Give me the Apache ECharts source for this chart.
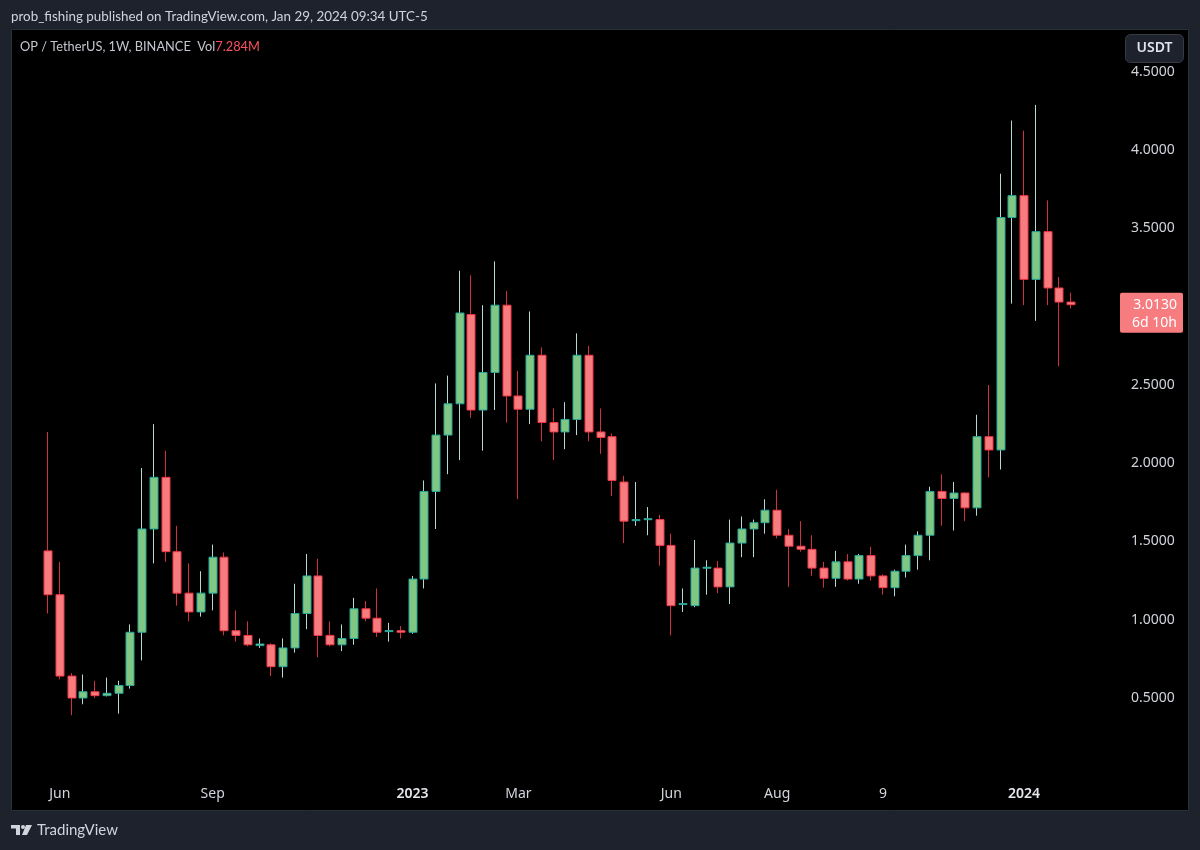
<!DOCTYPE html>
<html>
<head>
<meta charset="utf-8">
<script src="https://cdn.jsdelivr.net/npm/echarts@6/dist/echarts.min.js"></script>
<style>
html,body{margin:0;padding:0;background:#1e222d;}
#chart{width:1200px;height:850px;}
</style>
</head>
<body>
<div id="chart"></div>
<script>
// Weekly candles OP / TetherUS (Binance), week start dates
var weeks = [
 '2022-05-30','2022-06-06','2022-06-13','2022-06-20','2022-06-27','2022-07-04','2022-07-11','2022-07-18','2022-07-25',
 '2022-08-01','2022-08-08','2022-08-15','2022-08-22','2022-08-29','2022-09-05','2022-09-12','2022-09-19','2022-09-26',
 '2022-10-03','2022-10-10','2022-10-17','2022-10-24','2022-10-31','2022-11-07','2022-11-14','2022-11-21','2022-11-28',
 '2022-12-05','2022-12-12','2022-12-19','2022-12-26','2023-01-02','2023-01-09','2023-01-16','2023-01-23','2023-01-30',
 '2023-02-06','2023-02-13','2023-02-20','2023-02-27','2023-03-06','2023-03-13','2023-03-20','2023-03-27','2023-04-03',
 '2023-04-10','2023-04-17','2023-04-24','2023-05-01','2023-05-08','2023-05-15','2023-05-22','2023-05-29','2023-06-05',
 '2023-06-12','2023-06-19','2023-06-26','2023-07-03','2023-07-10','2023-07-17','2023-07-24','2023-07-31','2023-08-07',
 '2023-08-14','2023-08-21','2023-08-28','2023-09-04','2023-09-11','2023-09-18','2023-09-25','2023-10-02','2023-10-09',
 '2023-10-16','2023-10-23','2023-10-30','2023-11-06','2023-11-13','2023-11-20','2023-11-27','2023-12-04','2023-12-11',
 '2023-12-18','2023-12-25','2024-01-01','2024-01-08','2024-01-15','2024-01-22','2024-01-29'
];
var opens = [
 1.44,1.16,0.64,0.50,0.54,0.515,0.53,0.58,0.92,1.58,1.91,1.435,1.17,1.05,1.17,1.40,0.93,0.90,0.835,0.84,0.70,0.82,1.04,1.28,0.90,0.84,0.88,1.07,1.01,0.925,0.93,
 0.92,1.26,1.82,2.18,2.38,2.95,2.34,2.58,3.01,2.43,2.345,2.69,2.26,2.20,2.28,2.69,2.20,2.17,1.88,1.633,1.64,1.64,1.475,1.097,1.09,1.33,1.33,1.21,1.49,1.58,
 1.62,1.70,1.54,1.47,1.45,1.33,1.265,1.37,1.26,1.41,1.28,1.205,1.31,1.41,1.54,1.82,1.775,1.81,1.715,2.17,2.085,3.57,3.71,3.175,3.48,3.12,3.03
];
var closes = [
 1.16,0.64,0.50,0.54,0.515,0.53,0.58,0.92,1.58,1.91,1.435,1.17,1.05,1.17,1.40,0.93,0.90,0.84,0.845,0.70,0.82,1.04,1.28,0.90,0.84,0.88,1.07,1.01,0.92,0.93,0.92,
 1.26,1.82,2.18,2.38,2.96,2.34,2.58,3.01,2.43,2.345,2.69,2.26,2.20,2.28,2.69,2.20,2.165,1.89,1.63,1.64,1.645,1.475,1.09,1.103,1.33,1.335,1.21,1.49,1.58,1.62,
 1.70,1.54,1.47,1.45,1.33,1.265,1.37,1.26,1.41,1.28,1.205,1.31,1.41,1.54,1.82,1.775,1.81,1.715,2.17,2.085,3.57,3.71,3.175,3.48,3.12,3.03,3.013
];
var lows = [
 1.04,0.62,0.39,0.46,0.50,0.51,0.40,0.56,0.74,1.36,1.37,1.09,0.99,1.02,1.06,0.90,0.86,0.83,0.82,0.64,0.63,0.79,0.94,0.76,0.83,0.80,0.84,0.99,0.89,0.86,0.88,
 0.91,1.20,1.58,1.93,2.02,2.29,2.08,2.34,2.26,1.77,2.25,2.14,2.02,2.09,2.18,2.14,2.06,1.79,1.49,1.60,1.54,1.345,0.90,1.05,1.08,1.16,1.17,1.10,1.40,1.40,
 1.55,1.52,1.21,1.435,1.28,1.205,1.21,1.25,1.23,1.25,1.16,1.15,1.27,1.32,1.38,1.60,1.57,1.63,1.665,1.91,1.96,3.02,3.01,2.91,3.01,2.62,2.99
];
var highs = [
 2.20,1.37,0.66,0.65,0.61,0.63,0.61,0.97,1.97,2.25,2.08,1.60,1.36,1.31,1.48,1.43,1.06,0.99,0.88,0.85,0.88,1.23,1.42,1.39,0.99,0.97,1.14,1.12,1.20,0.98,0.96,
 1.28,1.89,2.51,2.56,3.23,3.20,3.01,3.29,3.10,2.59,2.97,2.74,2.35,2.39,2.83,2.75,2.35,2.19,1.92,1.88,1.72,1.67,1.55,1.20,1.51,1.38,1.375,1.64,1.66,1.64,
 1.77,1.83,1.58,1.63,1.54,1.37,1.44,1.42,1.42,1.465,1.29,1.32,1.48,1.565,1.85,1.93,1.88,1.815,2.31,2.50,3.85,4.19,4.125,4.29,3.68,3.19,3.09
];
// time axis tick labels (week -> label)
var tickLabels = {
 '2022-06-06':'Jun','2022-09-05':'Sep','2023-01-02':'2023','2023-03-06':'Mar',
 '2023-06-05':'Jun','2023-08-07':'Aug','2023-10-09':'9','2024-01-01':'2024'
};
var yearLabels = ['2023','2024'];
var priceTicks = [0.5,1.0,1.5,2.0,2.5,3.0,3.5,4.0,4.5];
var lastPrice = 3.0130;
var timeLeft = '6d 10h';

var upFill = '#81c784', upBorder = '#26a69a', upWick = '#b4d8d3';
var dnFill = '#f77c80', dnBorder = '#f23645', dnWick = '#d0303f';
var FONT = '"Noto Sans", "DejaVu Sans", sans-serif';
var TFONT = 'Lato, "Noto Sans", sans-serif';

var data = weeks.map(function (w, i) { return [i, opens[i], closes[i], lows[i], highs[i]]; });

function renderItem(params, api) {
  var i = api.value(0), o = api.value(1), c = api.value(2), l = api.value(3), h = api.value(4);
  var up = c >= o;
  var x = Math.round(api.coord([i, o])[0]) - 0.5;
  var yO = api.coord([i, o])[1], yC = api.coord([i, c])[1];
  var yL = api.coord([i, l])[1], yH = api.coord([i, h])[1];
  var top = Math.min(yO, yC), bot = Math.max(yO, yC);
  if (bot - top < 1) { var m = (top + bot) / 2; top = m - 0.5; bot = m + 0.5; }
  return {
    type: 'group',
    children: [
      { type: 'line', shape: { x1: x, y1: yH, x2: x, y2: yL },
        style: { stroke: up ? upWick : dnWick, lineWidth: 1 } },
      { type: 'rect', shape: { x: x - 3.5, y: top, width: 8, height: bot - top },
        style: { fill: up ? upFill : dnFill, stroke: up ? upBorder : dnBorder, lineWidth: 1 } }
    ]
  };
}

var chart = echarts.init(document.getElementById('chart'), null, { renderer: 'canvas' });
chart.setOption({
  backgroundColor: '#1e222d',
  animation: false,
  grid: { left: 42.12, width: 1034.9, top: 32.875, height: 743.375, containLabel: false },
  xAxis: {
    type: 'category', data: weeks, boundaryGap: true,
    axisLine: { show: false }, axisTick: { show: false }, splitLine: { show: false },
    axisLabel: {
      interval: function (idx, val) { return tickLabels.hasOwnProperty(val); },
      formatter: function (val) {
        var t = tickLabels[val] || '';
        return yearLabels.indexOf(t) >= 0 ? '{b|' + t + '}' : t;
      },
      color: '#d1d4dc', fontSize: 14, fontFamily: FONT, margin: 11,
      rich: { b: { fontWeight: 600, color: '#e6e8ee', fontSize: 14, fontFamily: FONT } }
    }
  },
  yAxis: {
    type: 'value', position: 'right', min: 0, max: 4.75, interval: 0.5, scale: false,
    axisLine: { show: false }, axisTick: { show: false }, splitLine: { show: false },
    axisLabel: {
      showMinLabel: false, showMaxLabel: false,
      formatter: function (v) { return priceTicks.indexOf(v) >= 0 ? v.toFixed(4) : ''; },
      color: '#d1d4dc', fontSize: 14, fontFamily: FONT, margin: 54, align: 'left'
    }
  },
  series: [{
    type: 'custom', renderItem: renderItem, data: data,
    encode: { x: 0, y: [1, 2, 3, 4] }, clip: true, z: 5
  }]
});

var py = chart.convertToPixel({ yAxisIndex: 0 }, lastPrice);
chart.setOption({
  graphic: [
    { type: 'rect', z: -10, shape: { x: 11.5, y: 29.5, width: 1177, height: 781 },
      style: { fill: '#000000', stroke: '#2a2e39', lineWidth: 1 } },
    { type: 'text', z: 10, x: 11, y: 17,
      style: { text: 'prob_fishing published on TradingView.com, Jan 29, 2024 09:34 UTC-5',
        fill: '#d1d4dc', font: '13.4px ' + TFONT, textVerticalAlign: 'middle' } },
    { type: 'text', z: 10, x: 20, y: 47,
      style: { text: '{a|OP / TetherUS, 1W, BINANCE  Vol}{b|7.284M}', textVerticalAlign: 'middle',
        rich: { a: { fill: '#c3c6ce', font: '12.8px ' + TFONT }, b: { fill: '#f7525f', font: '12.8px ' + TFONT } } } },
    { type: 'rect', z: 10, shape: { x: 1125.5, y: 34.5, width: 58, height: 28, r: 5 },
      style: { fill: '#1e222d', stroke: '#363a45', lineWidth: 1 } },
    { type: 'text', z: 11, x: 1154.5, y: 48.5,
      style: { text: 'USDT', fill: '#e0e3eb', font: '600 14px ' + FONT, textAlign: 'center', textVerticalAlign: 'middle' } },
    { type: 'rect', z: 10, shape: { x: 1120, y: py - 12, width: 63, height: 40, r: 2 },
      style: { fill: '#f77c80' } },
    { type: 'text', z: 11, x: 1177, y: py,
      style: { text: lastPrice.toFixed(4), fill: '#ffffff', font: '14px ' + FONT, textAlign: 'right', textVerticalAlign: 'middle' } },
    { type: 'text', z: 11, x: 1177, y: py + 18,
      style: { text: timeLeft, fill: '#ffffff', font: '14px ' + FONT, textAlign: 'right', textVerticalAlign: 'middle' } },
    // TradingView logo
    { type: 'rect', z: 10, shape: { x: 11, y: 825, width: 9, height: 3.5 }, style: { fill: '#d1d4dc' } },
    { type: 'rect', z: 10, shape: { x: 16, y: 825, width: 4, height: 10 }, style: { fill: '#d1d4dc' } },
    { type: 'circle', z: 10, shape: { cx: 23, cy: 827, r: 2 }, style: { fill: '#d1d4dc' } },
    { type: 'polygon', z: 10, shape: { points: [[26, 825], [32, 825], [27, 835], [22, 835]] }, style: { fill: '#d1d4dc' } },
    { type: 'text', z: 10, x: 37, y: 830,
      style: { text: 'TradingView', fill: '#d1d4dc', font: '15px ' + TFONT, textVerticalAlign: 'middle' } }
  ]
});
</script>
</body>
</html>
